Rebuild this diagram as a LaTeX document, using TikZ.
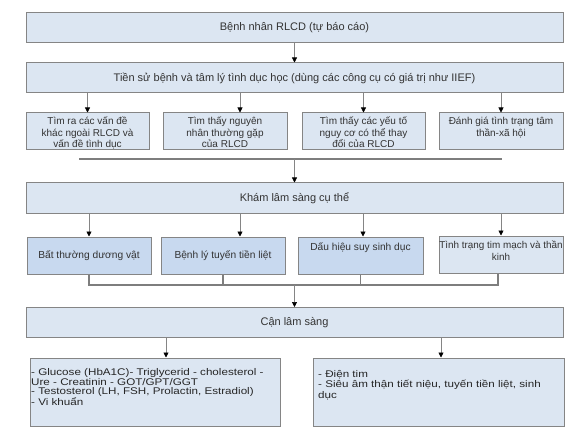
\documentclass[tikz,border=0pt]{standalone}
\usepackage{fontspec}
\setmainfont{Liberation Sans}
\newfontfamily\widefont{Liberation Sans}[FakeStretch=1.2]
\usetikzlibrary{arrows.meta,calc}
\definecolor{boxfill}{HTML}{DCE6F2}
\definecolor{boxfilldk}{HTML}{C8D9EF}
\definecolor{boxline}{HTML}{858585}
\definecolor{txt}{HTML}{333333}
\begin{document}
\begin{tikzpicture}[x=1pt,y=-1pt,
  box/.style={draw=boxline, line width=1pt, fill=boxfill, inner sep=0pt, text=txt},
  hdr/.style={box, minimum width=537pt, minimum height=30pt, font=\fontsize{11}{13}\selectfont},
  rowbox/.style={box, minimum width=124pt, minimum height=37pt},
  rtext/.style={inner sep=0pt, align=center, text=txt, font=\fontsize{10}{11.5}\selectfont},
  btext/.style={inner sep=0pt, align=left, text=black!85, anchor=north west},
  arr/.style={draw=boxline, line width=0.7pt, -{Triangle[width=5pt,length=5pt,color=black]}},
  bar/.style={draw=boxline!95!black, line width=1.8pt},
]
\useasboundingbox[fill=white] (0,0) rectangle (576,433);

% header boxes
\node[hdr] (p) at (294.5,28) {Bệnh nhân RLCD (tự báo cáo)};
\node[hdr] (hist) at (294.5,78) {Tiền sử bệnh và tâm lý tình dục học (dùng các công cụ có giá trị như IIEF)};

% row 1
\node[rowbox, minimum width=123pt] (a1) at (87.5,131.5) {};
\node[rowbox] (a2) at (225,131.5) {};
\node[rowbox, minimum width=123pt] (a3) at (363.5,131.5) {};
\node[rowbox] (a4) at (501,131.5) {};
\node[rtext, anchor=north] (a1t) at (87.5,117) {Tìm ra các vấn đề\\khác ngoài RLCD và\\vấn đề tình dục};
\node[rtext, anchor=north] (a2t) at (225,117) {Tìm thấy nguyên\\nhân thường gặp\\của RLCD};
\node[rtext, anchor=north] (a3t) at (363.5,117) {Tìm thấy các yếu tố\\nguy cơ có thể thay\\đổi của RLCD};
\node[rtext, anchor=north] (a4t) at (501,117) {Đánh giá tình trạng tâm\\thần-xã hội};

\draw[arr] (p.south) -- (hist.north);
\draw[arr] (a1.north |- hist.south) -- (a1.north);
\draw[arr] ([xshift=15pt]a2.north |- hist.south) -- ([xshift=15pt]a2.north);
\draw[arr] (a3.north |- hist.south) -- (a3.north);
\draw[arr] (a4.north |- hist.south) -- (a4.north);

% bar 1
\coordinate (bar1L) at (79,159);
\coordinate (bar1R) at (502,159);
\draw[bar] (bar1L) -- (bar1R);

% exam
\node[hdr] (kham) at (294.5,198) {Khám lâm sàng cụ thể};
\draw[arr] (kham.north |- bar1L) -- (kham.north);

% row 2
\node[rowbox, fill=boxfilldk, font=\fontsize{10.2}{12}\selectfont] (b1) at (89,255.5) {Bất thường dương vật};
\node[rowbox, fill=boxfilldk, font=\fontsize{10.2}{12}\selectfont] (b2) at (223,255.5) {Bệnh lý tuyến tiền liệt};
\node[rowbox, fill=boxfilldk, minimum width=125pt] (b3) at (360.5,255.5) {};
\node[rowbox] (b4) at (501,254.5) {};
\node[rtext, anchor=north, font=\fontsize{10.2}{12}\selectfont] (b3t) at (360.5,242) {Dấu hiệu suy sinh dục};
\node[rtext, anchor=north, font=\fontsize{9.9}{12}\selectfont] (b4t) at (501,241) {Tình trạng tim mạch và thần\\kinh};

\draw[arr] (b1.north |- kham.south) -- (b1.north);
\draw[arr] ([xshift=17pt]b2.north |- kham.south) -- ([xshift=17pt]b2.north);
\draw[arr] ([xshift=2.5pt]b3.north |- kham.south) -- ([xshift=2.5pt]b3.north);
\draw[arr] (b4.north |- kham.south) -- (b4.north);

% bar 2
\coordinate (bar2) at (295,285);
\draw[bar] (b1.south) -- (b1.south |- bar2) -- ([xshift=-3pt]b4.south |- bar2) -- ([xshift=-3pt]b4.south);
\draw[bar] (b2.south) -- (b2.south |- bar2);
\draw[bar] (b3.south) -- (b3.south |- bar2);

% paraclinical
\node[hdr] (cls) at (294.5,322.5) {Cận lâm sàng};
\draw[arr] (cls.north |- bar2) -- (cls.north);

% bottom boxes
\node[box, minimum width=250pt, minimum height=68pt] (L) at (155,392) {};
\node[box, minimum width=251pt, minimum height=68pt] (R) at (438.5,392) {};
\node[btext, font=\widefont\fontsize{9.7}{8.8}\selectfont] (Lt) at (31,368.5) {- Glucose (HbA1C)- Triglycerid - cholesterol -\\Ure - Creatinin - GOT/GPT/GGT\\- Testosterol (LH, FSH, Prolactin, Estradiol)\\- Vi khuẩn};
\node[btext, font=\widefont\fontsize{9.7}{10.5}\selectfont] (Rt) at (318,370) {- Điện tim\\- Siêu âm thận tiết niệu, tuyến tiền liệt, sinh\\dục};

\draw[arr] ([xshift=11pt]L.north |- cls.south) -- ([xshift=11pt]L.north);
\draw[arr] ([xshift=2.5pt]R.north |- cls.south) -- ([xshift=2.5pt]R.north);
\end{tikzpicture}
\end{document}
